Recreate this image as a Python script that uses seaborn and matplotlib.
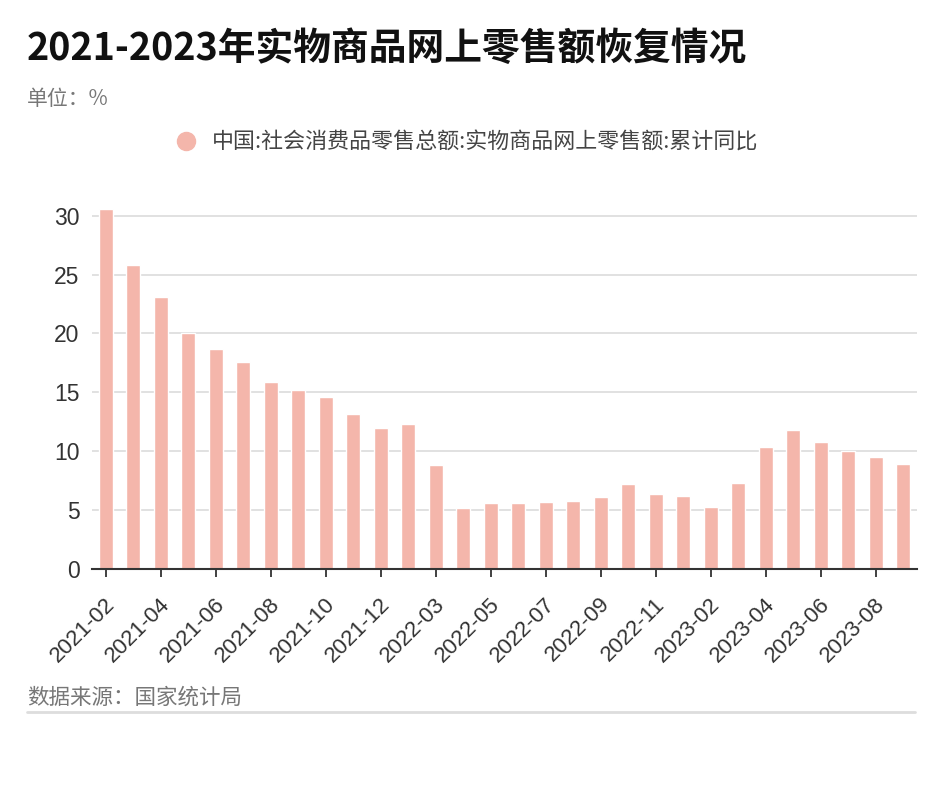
import matplotlib
matplotlib.use("Agg")
import matplotlib.pyplot as plt
from matplotlib.lines import Line2D
from matplotlib.transforms import ScaledTranslation
import seaborn as sns
import pandas as pd

title = "2021-2023年实物商品网上零售额恢复情况"
unit_text = "单位：%"
source_text = "数据来源：国家统计局"
series_name = "中国:社会消费品零售总额:实物商品网上零售额:累计同比"

months = [
    "2021-02", "2021-03", "2021-04", "2021-05", "2021-06", "2021-07", "2021-08",
    "2021-09", "2021-10", "2021-11", "2021-12",
    "2022-02", "2022-03", "2022-04", "2022-05", "2022-06", "2022-07", "2022-08",
    "2022-09", "2022-10", "2022-11", "2022-12",
    "2023-02", "2023-03", "2023-04", "2023-05", "2023-06", "2023-07", "2023-08",
    "2023-09",
]
values = [
    30.6, 25.8, 23.1, 20.0, 18.7, 17.6, 15.9,
    15.2, 14.6, 13.2, 12.0,
    12.3, 8.8, 5.2, 5.6, 5.6, 5.7, 5.8,
    6.1, 7.2, 6.4, 6.2,
    5.3, 7.3, 10.4, 11.8, 10.8, 10.0, 9.5,
    8.9,
]
tick_labels = [
    "2021-02", "2021-04", "2021-06", "2021-08", "2021-10", "2021-12",
    "2022-03", "2022-05", "2022-07", "2022-09", "2022-11",
    "2023-02", "2023-04", "2023-06", "2023-08",
]
y_ticks = [0, 5, 10, 15, 20, 25, 30]

bar_color = "#F4B6AB"

sns.set_theme(style="white")
plt.rcParams["font.family"] = ["Noto Sans CJK SC", "DejaVu Sans"]

fig = plt.figure(figsize=(9.41, 8.0), dpi=100)
ax = fig.add_axes([92 / 941, 1 - 569 / 800, (917 - 92) / 941, (569 - 198) / 800])

df = pd.DataFrame({"month": months, "value": values})
sns.barplot(data=df, x="month", y="value", color=bar_color, saturation=1,
            width=0.5, ax=ax, zorder=2)

ax.set_xlim(-0.5, len(months) - 0.5)
ax.set_ylim(0, 31.5)
ax.set_xlabel("")
ax.set_ylabel("")

ax.set_yticks(y_ticks)
ax.set_yticklabels([str(v) for v in y_ticks], family=["Liberation Sans"],
                   fontsize=16.5, color="#333333")
ax.tick_params(axis="y", length=0, pad=9)
ax.yaxis.grid(True, color="#dedede", linewidth=1.3, zorder=0)
ax.set_axisbelow(True)

tick_pos = [months.index(t) for t in tick_labels]
ax.set_xticks(tick_pos)
ax.set_xticklabels(tick_labels, rotation=45, ha="right", va="center",
                   rotation_mode="anchor", family=["Liberation Sans"],
                   fontsize=16, color="#333333")
ax.tick_params(axis="x", length=6, width=1.3, color="#333333", pad=17,
               bottom=True, direction="out")
shift = ScaledTranslation(6 / 100, 0, fig.dpi_scale_trans)
for lbl in ax.get_xticklabels():
    lbl.set_transform(lbl.get_transform() + shift)

for s in ["top", "right", "left"]:
    ax.spines[s].set_visible(False)
ax.spines["bottom"].set_color("#333333")
ax.spines["bottom"].set_linewidth(1.5)

fig.text(27 / 941, 1 - 48 / 800, title, fontsize=27.2, fontweight="bold",
         color="#111111", ha="left", va="center")
fig.text(27 / 941, 1 - 99 / 800, unit_text, fontsize=15, color="#777777",
         ha="left", va="center")

handle = Line2D([], [], marker="o", linestyle="none", markersize=13,
                markerfacecolor=bar_color, markeredgecolor=bar_color)
fig.legend([handle], [series_name], loc="center",
           bbox_to_anchor=(461 / 941, 1 - 143 / 800), frameon=False,
           fontsize=15.8, handletextpad=0.2, labelcolor="#444444")

fig.text(27 / 941, 1 - 698 / 800, source_text, fontsize=15.5, color="#777777",
         ha="left", va="center")
fig.add_artist(Line2D([27 / 941, 915 / 941], [1 - 712 / 800, 1 - 712 / 800],
                      color="#dddddd", linewidth=2, transform=fig.transFigure))

fig.savefig("out.png", dpi=100, facecolor="white")
